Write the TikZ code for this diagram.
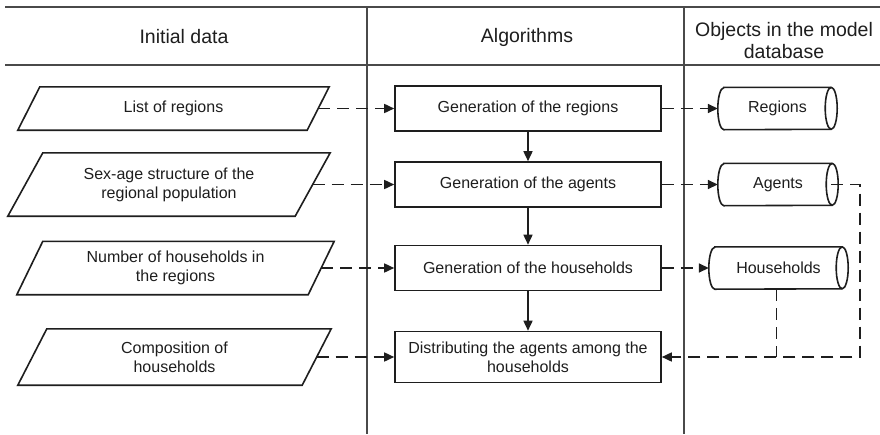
\documentclass[tikz,border=0pt]{standalone}
\usepackage{fontspec}
\setmainfont{Liberation Sans}
\usetikzlibrary{arrows.meta,calc}
\definecolor{ink}{HTML}{1E1E1E}
\definecolor{rule}{HTML}{4A4A4A}
\newcommand\mypgram[7]{%
  \node[txt, minimum width=#4pt, minimum height=#5pt] (#1) at (#2,#3) {#7};
  \draw[shapeline] ([xshift=#6pt]#1.north west) -- ([xshift=#6pt]#1.north east)
     -- ([xshift=-#6pt]#1.south east) -- ([xshift=-#6pt]#1.south west) -- cycle;}
\newcommand\mycyl[6]{%
  \node[txt, minimum width=#4pt, minimum height=#5pt] (#1) at (#2,#3) {#6};
  \draw[shapeline] ([xshift=6pt]#1.north west) -- ([xshift=-6pt]#1.north east)
     arc[start angle=90, end angle=-90, x radius=6pt, y radius=#5pt/2]
     -- ([xshift=6pt]#1.south west)
     arc[start angle=270, end angle=90, x radius=6pt, y radius=#5pt/2] -- cycle;
  \draw[shapeline] ([xshift=-6pt]#1.north east)
     arc[start angle=90, end angle=270, x radius=6pt, y radius=#5pt/2];}
\begin{document}
\begin{tikzpicture}[x=1pt,y=-1pt,
  grid/.style={draw=rule, line width=1.1pt},
  shapeline/.style={draw=ink, line width=1.6pt, line join=miter},
  txt/.style={font=\fontsize{16}{19}\selectfont, text=ink, align=center, inner sep=0pt},
  hdr/.style={font=\fontsize{19.5}{22}\selectfont, text=ink, align=center, inner sep=0pt},
  algbox/.style={shapeline, rectangle, minimum width=266pt, txt},
  flow/.style={line width=1.6pt, draw=ink, -{Triangle[length=10pt,width=9pt]}},
  dflow/.style={flow, dash pattern=on 12pt off 7pt},
  dline/.style={line width=1.6pt, draw=ink, dash pattern=on 12pt off 7pt},
]
\useasboundingbox (0,0) rectangle (880,434);
\fill[white] (0,0) rectangle (880,434);
% table
\draw[grid] (5,7) -- (880,7);
\draw[grid] (5,65) -- (880,65);
\draw[grid] (367,7) -- (367,434);
\draw[grid] (684,7) -- (684,434);
\node[hdr] (h1) at (184,37) {Initial data};
\node[hdr] (h2) at (527,37) {Algorithms};
\node[hdr] (h3) at (784,41) {Objects in the model\\database};
% initial data
\mypgram{p1}{173.5}{108.5}{289}{43}{11}{List of regions}
\mypgram{p2}{169}{184.5}{287}{63}{17.5}{Sex-age structure of the\\regional population}
\mypgram{p3}{175.5}{268}{291}{53}{13}{Number of households in\\the regions}
\mypgram{p4}{174.5}{357}{284}{56}{14.5}{Composition of\\households}
% algorithms
\node[algbox, minimum height=45pt] (b1) at (528,108.5) {Generation of the regions};
\node[algbox, minimum height=45pt] (b2) at (528,184.5) {Generation of the agents};
\node[algbox, minimum height=45pt] (b3) at (528,268) {Generation of the households};
\node[algbox, minimum height=51pt] (b4) at (528,357) {Distributing the agents among the\\households};
% objects
\mycyl{reg}{777.5}{108.5}{119}{42}{Regions}
\mycyl{agt}{778}{184.5}{120}{42}{Agents}
\mycyl{hh}{778.5}{268}{139}{42}{Households}
% connectors
\draw[dflow] (p1.east) -- (b1.west);
\draw[dflow] (p2.east) -- (b2.west);
\draw[dflow] (p3.east) -- (b3.west);
\draw[dflow] (p4.east) -- (b4.west);
\draw[flow] (b1.south) -- (b2.north);
\draw[flow] (b2.south) -- (b3.north);
\draw[flow] (b3.south) -- (b4.north);
\draw[dflow] (b1.east) -- (reg.west);
\draw[dflow] (b2.east) -- (agt.west);
\draw[dflow] (b3.east) -- (hh.west);
\coordinate (c1) at (860,184.5);
\coordinate (c2) at (860,357);
\draw[dflow] ([xshift=-7pt]agt.east) -- (c1) -- (c2) -- (b4.east);
\draw[dline] ([xshift=-2pt]hh.south) -- ([xshift=-2pt]hh.south |- c2);
\end{tikzpicture}
\end{document}
